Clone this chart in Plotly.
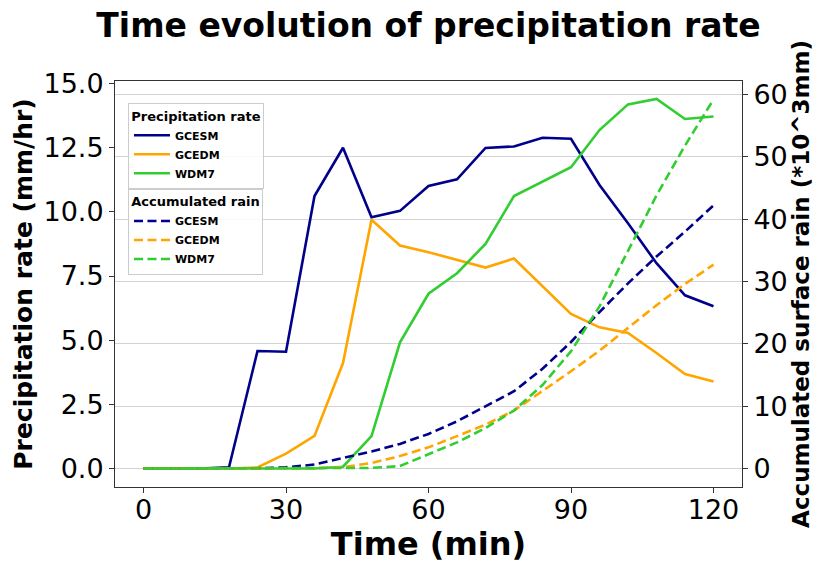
import plotly.graph_objects as go

time_min = [0, 6, 12, 18, 24, 30, 36, 42, 48, 54, 60, 66, 72, 78, 84, 90, 96, 102, 108, 114, 120]

rate_gcesm = [0, 0, 0, 0.05, 4.58, 4.55, 10.62, 12.5, 9.79, 10.04, 11.01, 11.27, 12.49, 12.55, 12.89, 12.85, 11.05, 9.56, 8.0, 6.75, 6.32]
rate_gcedm = [0, 0, 0, 0, 0.04, 0.58, 1.27, 4.11, 9.69, 8.69, 8.43, 8.13, 7.83, 8.18, 7.09, 6.02, 5.50, 5.28, 4.50, 3.68, 3.39]
rate_wdm7 = [0, 0, 0, 0, 0, 0, 0, 0.07, 1.26, 4.92, 6.81, 7.61, 8.75, 10.62, 11.18, 11.74, 13.19, 14.19, 14.40, 13.62, 13.72]

acc_gcesm = [0, 0, 0, 0, 0.05, 0.2, 0.64, 1.7, 2.72, 3.95, 5.55, 7.57, 9.97, 12.4, 16.0, 20.3, 25.1, 29.7, 34.0, 38.0, 42.2]
acc_gcedm = [0, 0, 0, 0, 0, 0, 0.05, 0.2, 0.9, 2.0, 3.4, 5.2, 7.04, 9.3, 12.4, 15.6, 18.9, 22.5, 26.2, 29.6, 32.7]
acc_wdm7 = [0, 0, 0, 0, 0, 0, 0, 0, 0.1, 0.4, 2.24, 4.2, 6.5, 9.3, 13.4, 18.8, 26.0, 34.8, 43.8, 51.8, 59.2]

models = ["GCESM", "GCEDM", "WDM7"]
colors = ["#00008B", "#FFA500", "#32CD32"]
rates = [rate_gcesm, rate_gcedm, rate_wdm7]
accs = [acc_gcesm, acc_gcedm, acc_wdm7]

x_ticks = [0, 30, 60, 90, 120]
y_ticks = [0, 2.5, 5, 7.5, 10, 12.5, 15]
y_tick_labels = ["0.0", "2.5", "5.0", "7.5", "10.0", "12.5", "15.0"]
y2_ticks = [0, 10, 20, 30, 40, 50, 60]

FONT = "DejaVu Sans"

fig = go.Figure()
for name, col, r in zip(models, colors, rates):
    fig.add_trace(go.Scatter(x=time_min, y=r, mode="lines", name=name,
                             line=dict(color=col, width=2.6), legend="legend", yaxis="y"))
for name, col, a in zip(models, colors, accs):
    fig.add_trace(go.Scatter(x=time_min, y=a, mode="lines", name=name,
                             line=dict(color=col, width=2.6, dash="9px,4.5px"),
                             legend="legend2", yaxis="y2"))

axis_common = dict(showline=True, linecolor="#333", linewidth=1, ticks="outside",
                   ticklen=5, tickwidth=1, tickcolor="#333", zeroline=False, automargin=False,
                   tickfont=dict(family=FONT, size=27, color="black"))

fig.update_layout(
    width=820, height=563,
    margin=dict(l=115, r=78, t=81, b=76),
    paper_bgcolor="white", plot_bgcolor="white",
    font=dict(family=FONT, color="black"),
    title=dict(text="<b>Time evolution of precipitation rate</b>", x=0.5, xref="paper",
               y=1 - 25 / 563, yref="container", xanchor="center", yanchor="middle",
               font=dict(family=FONT, size=33, color="black")),
    xaxis=dict(range=[-6, 126], tickvals=x_ticks, showgrid=False, mirror=True,
               ticklabelstandoff=-6,
               title=dict(text="<b>Time (min)</b>", font=dict(family=FONT, size=32), standoff=9),
               **axis_common),
    yaxis=dict(range=[-0.72, 15.1], tickvals=y_ticks, ticktext=y_tick_labels, showgrid=False,
               mirror=False,
               title=dict(text="<b>Precipitation rate (mm/hr)</b>", font=dict(family=FONT, size=25), standoff=3),
               **axis_common),
    yaxis2=dict(range=[-2.96, 62.16], tickvals=y2_ticks, overlaying="y", side="right",
                showgrid=True, gridcolor="#d3d3d3", gridwidth=1.2,
                title=dict(text="<b>Accumulated surface rain (*10^3mm)</b>", font=dict(family=FONT, size=23), standoff=2),
                **axis_common),
    legend=dict(x=0.0207, y=0.946, xanchor="left", yanchor="top",
                bgcolor="rgba(255,255,255,0.85)", bordercolor="#cccccc", borderwidth=1,
                font=dict(family=FONT, size=11, weight="bold"),
                title=dict(text="<b>Precipitation rate</b>", side="top center", font=dict(family=FONT, size=13)),
                itemwidth=36, tracegroupgap=0),
    legend2=dict(x=0.0207, y=0.735, xanchor="left", yanchor="top",
                 bgcolor="rgba(255,255,255,0.85)", bordercolor="#cccccc", borderwidth=1,
                 font=dict(family=FONT, size=11, weight="bold"),
                 title=dict(text="<b>Accumulated rain</b>", side="top center", font=dict(family=FONT, size=13)),
                 itemwidth=36, tracegroupgap=0),
)

fig.write_html("out.html")
